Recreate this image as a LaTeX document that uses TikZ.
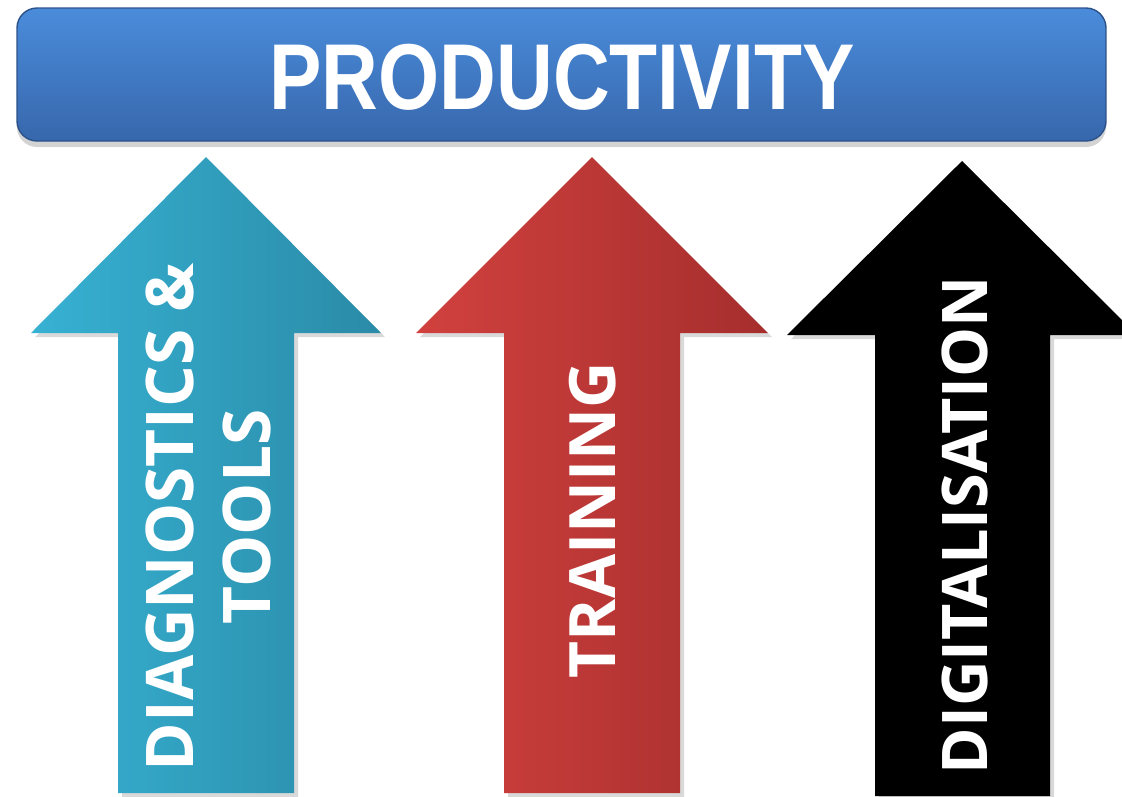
\documentclass[tikz,border=0pt]{standalone}
\usepackage{fontspec}
\setmainfont{Liberation Sans}
\newfontfamily\barfont{Liberation Sans}[FakeStretch=0.84]
\newfontfamily\arrowfont{Open Sans}
\usetikzlibrary{shadows}

\definecolor{bartop}{HTML}{4A8CDB}
\definecolor{barbottom}{HTML}{3767AC}
\definecolor{tealleft}{HTML}{37B1D3}
\definecolor{tealright}{HTML}{2A8BA7}
\definecolor{redleft}{HTML}{D1413E}
\definecolor{redright}{HTML}{A52E2D}

\begin{document}
\begin{tikzpicture}[%
    x=0.01cm, y=-0.01cm,
    barshade/.style={
        top color=bartop,
        bottom color=barbottom,
        draw=barbottom!80!black,
        line width=0.4pt,
        rounded corners=0.2cm,
        drop shadow={opacity=0.35, shadow xshift=0pt, shadow yshift=-0.6mm}
    },
    arrowshade/.style={
        draw=none,
        drop shadow={opacity=0.3, shadow xshift=0.4mm, shadow yshift=-0.4mm}
    },
    bartext/.style={
        text=white,
        font=\barfont\bfseries\fontsize{26.6}{30}\selectfont
    },
    arrowtext/.style={
        text=white,
        rotate=90,
        align=center,
        font=\arrowfont\bfseries\fontsize{18.7}{21.9}\selectfont
    }
]
    % Fix the page to the size of the reference.
    \useasboundingbox (0,0) rectangle (1122,796);

    % Top bar.
    \draw[barshade] (17,8) rectangle (1106,141);
    \node[bartext] (productivity) at (562,77) {PRODUCTIVITY};

    % First arrow (teal).
    \draw[arrowshade, left color=tealleft, right color=tealright]
        (206,157) -- (381,333) -- (294,333) -- (294,793)
        -- (118,793) -- (118,333) -- (31,333) -- cycle;
    \node[arrowtext] (diagnostics) at (208,517) {DIAGNOSTICS \&\\TOOLS};

    % Second arrow (red).
    \draw[arrowshade, left color=redleft, right color=redright]
        (592,157) -- (768,333) -- (680,333) -- (680,793)
        -- (504,793) -- (504,333) -- (416,333) -- cycle;
    \node[arrowtext, font=\arrowfont\bfseries\fontsize{18.2}{21.9}\selectfont]
        (training) at (593,520) {TRAINING};

    % Third arrow (black), cut by the right edge.
    \draw[arrowshade, fill=black]
        (962,161) -- (1137,335) -- (1050,335) -- (1050,796)
        -- (875,796) -- (875,335) -- (787,335) -- cycle;
    \node[arrowtext, font=\arrowfont\bfseries\fontsize{17.9}{21.9}\selectfont]
        (digitalisation) at (965,525) {DIGITALISATION};
\end{tikzpicture}
\end{document}
